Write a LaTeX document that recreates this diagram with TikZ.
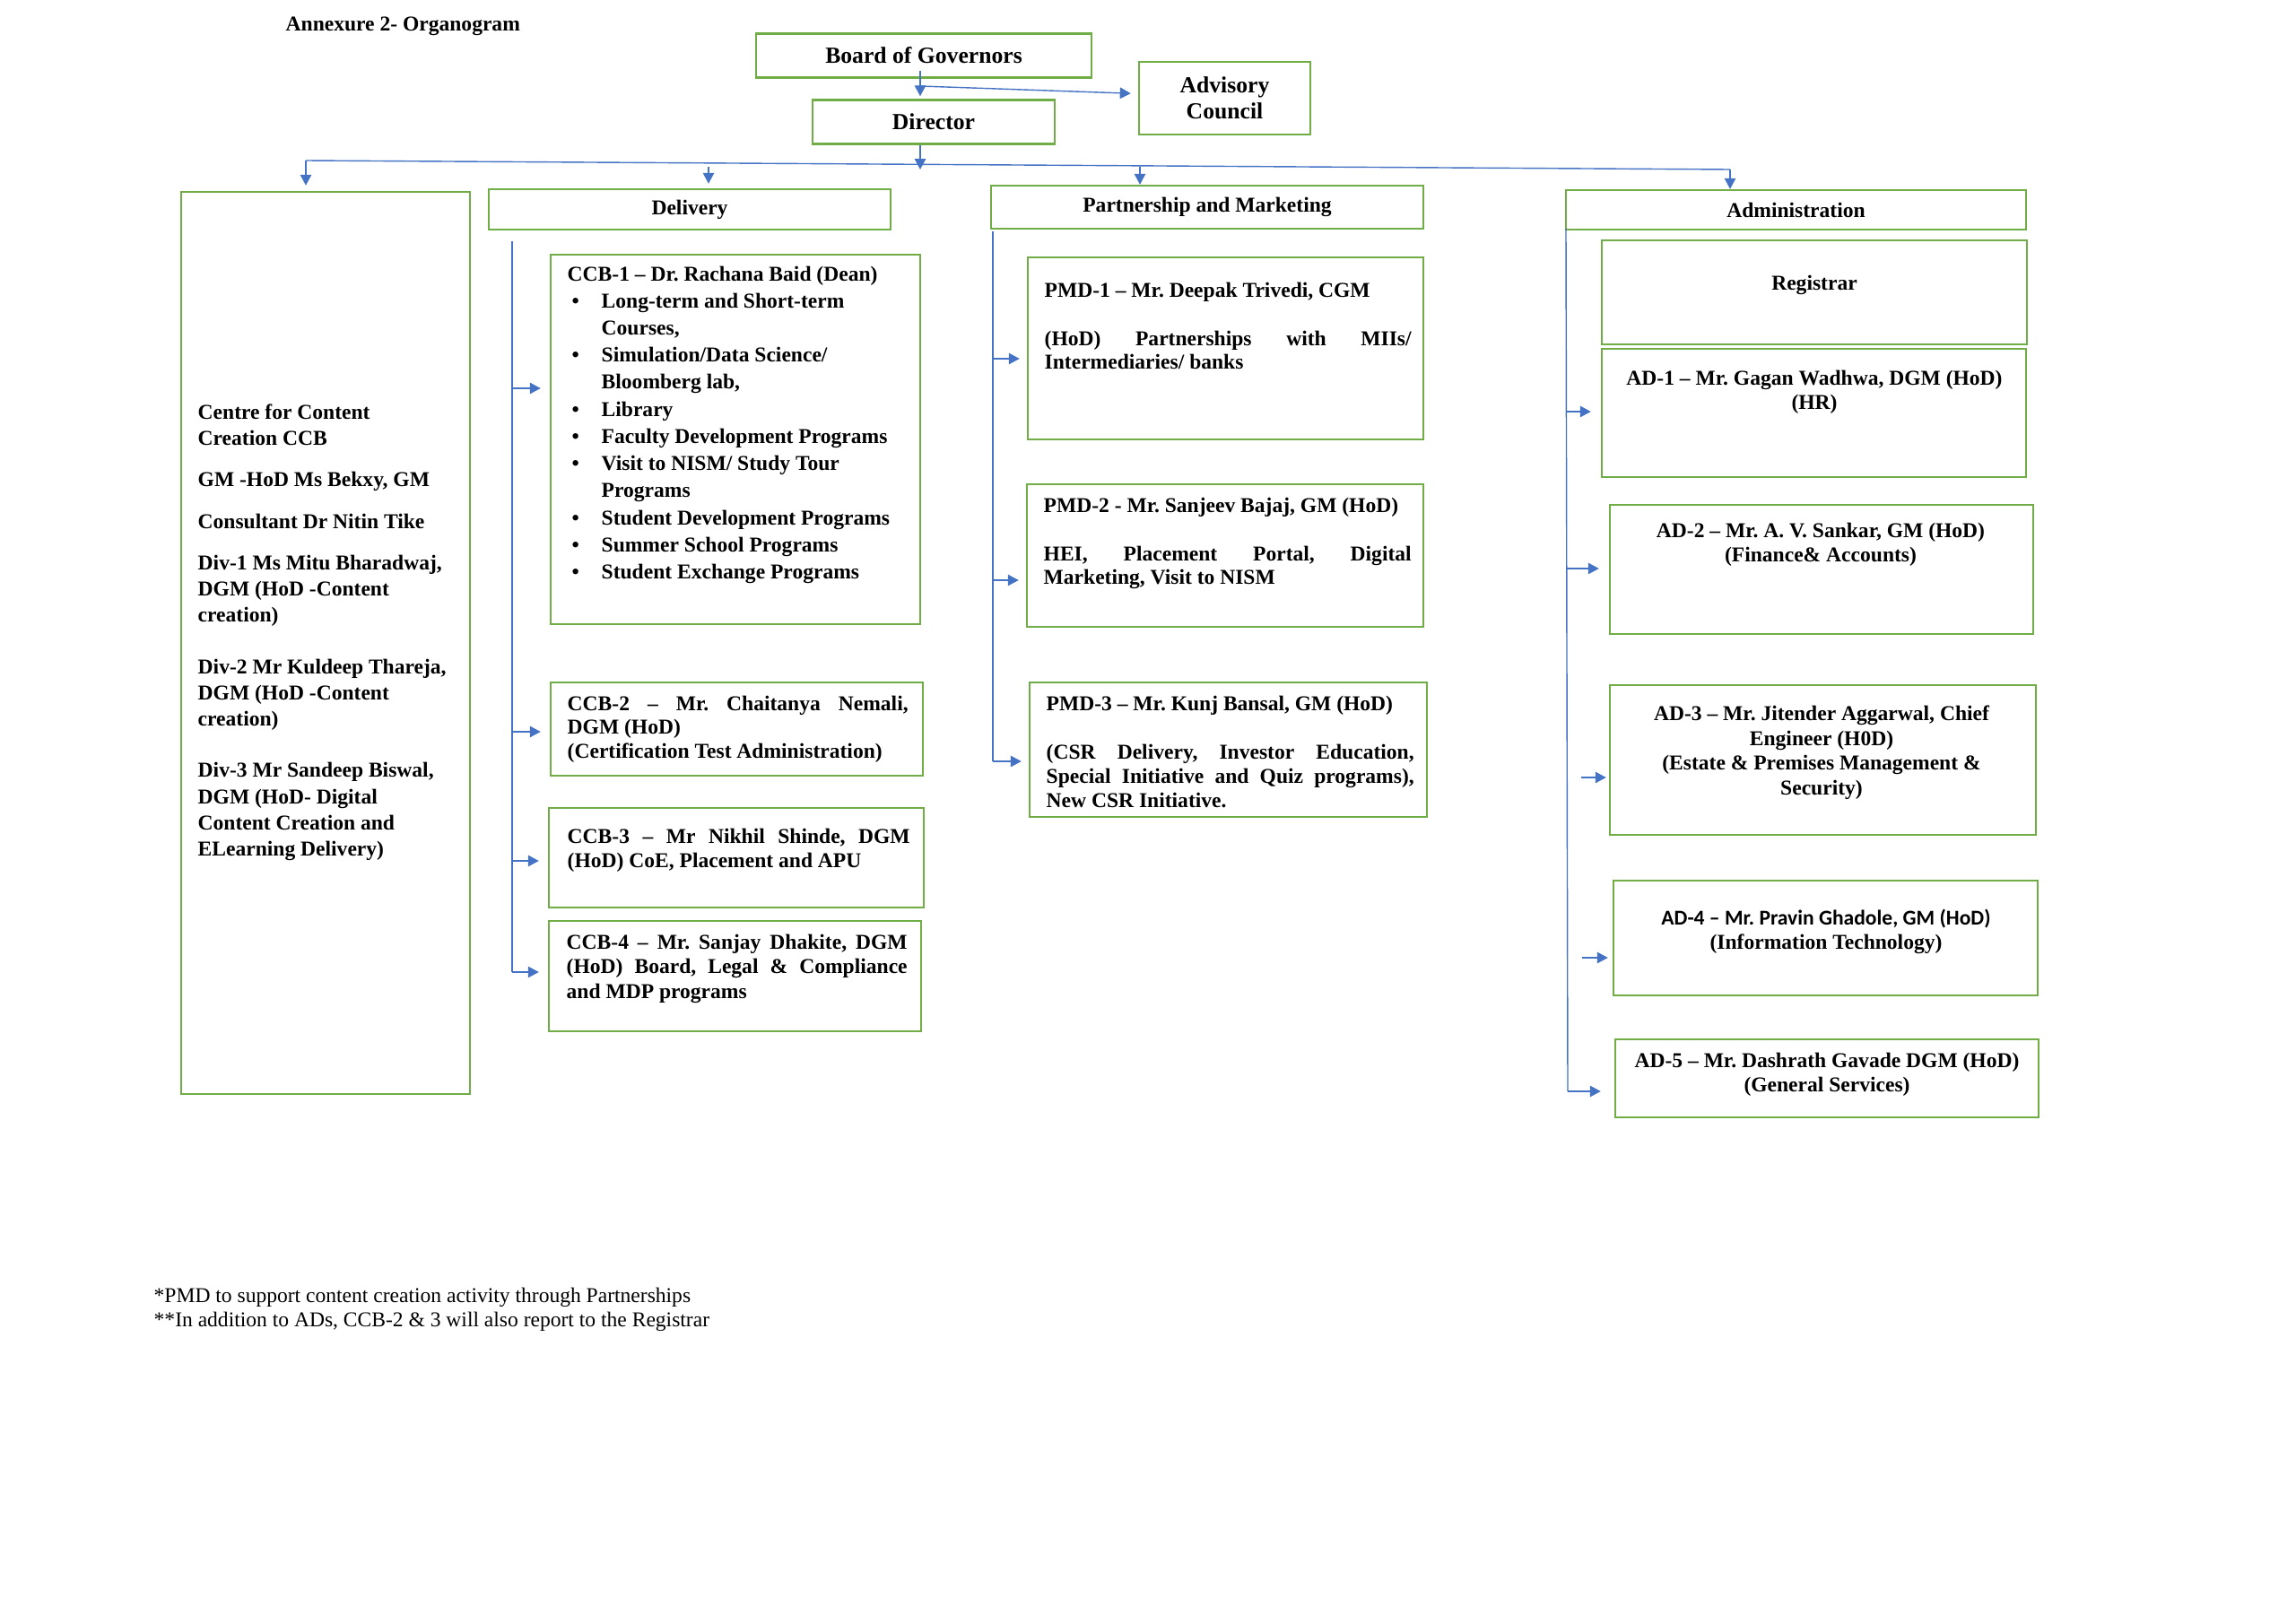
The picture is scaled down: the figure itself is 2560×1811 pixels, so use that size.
\documentclass[tikz,border=0pt]{standalone}
\usepackage{fontspec}
\setmainfont{Liberation Serif}
\newfontfamily\calfont[Ligatures=TeX]{Carlito}
\usetikzlibrary{arrows.meta}
\definecolor{boxgreen}{HTML}{70AD47}
\definecolor{linkblue}{HTML}{4472C4}
\newcommand{\orgitem}{\makebox[3.8mm][l]{\hspace{0.5mm}\textbullet}}
\newcommand{\orgcont}{\hspace*{3.8mm}}
\frenchspacing

\begin{document}
\begin{tikzpicture}[x=0.1mm,y=-0.1mm,
    box/.style={draw=boxgreen,line width=0.7pt,inner sep=0pt},
    txt/.style={inner sep=0pt,font=\fontsize{6.7}{7.9}\selectfont\bfseries},
    big/.style={inner sep=0pt,font=\fontsize{7.3}{8.3}\selectfont\bfseries},
    note/.style={inner sep=0pt,font=\fontsize{6.7}{7.9}\selectfont},
    bus/.style={draw=linkblue,line width=0.4pt},
    link/.style={bus,-{Triangle[length=1.2mm,width=1.25mm]}}]
  \useasboundingbox (0,0) rectangle (2560,1811);

  \node[txt,anchor=west] (title) at (318,29) {Annexure 2- Organogram};

  \node[box,big,minimum width=37.4mm,minimum height=4.9mm] (bog)
    at (1030,62) {Board of Governors};
  \node[box,big,align=center,minimum width=19.1mm,minimum height=8.1mm]
    (advisory) at (1365.5,109.5) {Advisory\\Council};
  \node[box,big,minimum width=27.0mm,minimum height=4.9mm] (director)
    at (1041,136) {Director};

  \node[box,minimum width=32.2mm,minimum height=100.6mm] (ccb) at (363,717) {};
  \node[txt,anchor=north west,align=left,font=\fontsize{6.7}{8.3}\selectfont\bfseries]
    (ccbtext) at (220,450)
    {Centre for Content\\Creation CCB\\[4.9pt]
     GM -HoD Ms Bekxy, GM\\[4.9pt]
     Consultant Dr Nitin Tike\\[4.9pt]
     Div-1 Ms Mitu Bharadwaj,\\DGM (HoD -Content\\creation)\\[8pt]
     Div-2 Mr Kuldeep Thareja,\\DGM (HoD -Content\\creation)\\[8pt]
     Div-3 Mr Sandeep Biswal,\\DGM (HoD- Digital\\Content Creation and\\ELearning Delivery)};

  \node[box,txt,minimum width=44.8mm,minimum height=4.5mm] (delivery)
    at (769,233.5) {Delivery};
  \node[box,minimum width=41.2mm,minimum height=41.2mm] (ccbone) at (820,490) {};
  \node[txt,anchor=north west,align=left,font=\fontsize{6.7}{8.6}\selectfont\bfseries]
    (ccbonetext) at (632,296)
    {CCB-1 -- Dr. Rachana Baid (Dean)\\
     \orgitem Long-term and Short-term\\\orgcont Courses,\\
     \orgitem Simulation/Data Science/\\\orgcont Bloomberg lab,\\
     \orgitem Library\\
     \orgitem Faculty Development Programs\\
     \orgitem Visit to NISM/ Study Tour\\\orgcont Programs\\
     \orgitem Student Development Programs\\
     \orgitem Summer School Programs\\
     \orgitem Student Exchange Programs};
  \node[box,minimum width=41.5mm,minimum height=10.4mm] (ccbtwo) at (821.5,813) {};
  \node[txt,anchor=north west,text width=38mm,align=justify,
    font=\fontsize{6.7}{7.6}\selectfont\bfseries] (ccbtwotext) at (632,775)
    {CCB-2 -- Mr. Chaitanya Nemali,\linebreak DGM (HoD)\\(Certification Test Administration)};
  \node[box,minimum width=41.8mm,minimum height=11.1mm] (ccbthree) at (821,956.5) {};
  \node[txt,anchor=north west,text width=38.2mm,align=justify] (ccbthreetext)
    at (632,923) {CCB-3 -- Mr Nikhil Shinde, DGM\linebreak (HoD) CoE, Placement and APU};
  \node[box,minimum width=41.5mm,minimum height=12.3mm] (ccbfour) at (819.5,1088.5) {};
  \node[txt,anchor=north west,text width=38mm,align=justify] (ccbfourtext)
    at (631,1041) {CCB-4 -- Mr. Sanjay Dhakite, DGM\linebreak (HoD) Board, Legal \&
    Compliance\linebreak and MDP programs};

  \node[box,txt,minimum width=48.2mm,minimum height=4.8mm] (pm)
    at (1346,231) {Partnership and Marketing};
  \node[box,minimum width=44.1mm,minimum height=20.3mm] (pmdone) at (1366.5,388.5) {};
  \node[txt,anchor=north west,text width=40.9mm,align=justify,
    font=\fontsize{6.7}{7.5}\selectfont\bfseries] (pmdonetext) at (1164,314)
    {PMD-1 -- Mr. Deepak Trivedi, CGM\\[8pt](HoD) Partnerships with MIIs/\linebreak
     Intermediaries/ banks};
  \node[box,minimum width=44.2mm,minimum height=15.9mm] (pmdtwo) at (1366,619.5) {};
  \node[txt,anchor=north west,text width=41mm,align=justify,
    font=\fontsize{6.7}{7.5}\selectfont\bfseries] (pmdtwotext) at (1163,554)
    {PMD-2 - Mr. Sanjeev Bajaj, GM (HoD)\\[8pt]HEI, Placement Portal, Digital\linebreak
     Marketing, Visit to NISM};
  \node[box,minimum width=44.3mm,minimum height=15.0mm] (pmdthree) at (1369.5,836) {};
  \node[txt,anchor=north west,text width=41mm,align=justify,
    font=\fontsize{6.7}{7.6}\selectfont\bfseries] (pmdthreetext) at (1166,775)
    {PMD-3 -- Mr. Kunj Bansal, GM (HoD)\\[8pt](CSR Delivery, Investor Education,\linebreak
     Special Initiative and Quiz programs),\linebreak New CSR Initiative.};

  \node[box,txt,minimum width=51.3mm,minimum height=4.4mm] (admin)
    at (2002.5,234) {Administration};
  \node[box,minimum width=47.4mm,minimum height=11.6mm] (registrar) at (2023,326) {};
  \node[txt,anchor=north] (registrartext) at (2023,306) {Registrar};
  \node[box,minimum width=47.3mm,minimum height=14.3mm] (adone) at (2022.5,460.5) {};
  \node[txt,anchor=north,align=center] (adonetext) at (2023,412)
    {AD-1 -- Mr. Gagan Wadhwa, DGM (HoD)\\(HR)};
  \node[box,minimum width=47.2mm,minimum height=14.4mm] (adtwo) at (2031,635) {};
  \node[txt,anchor=north,align=center] (adtwotext) at (2030,582)
    {AD-2 -- Mr. A. V. Sankar, GM (HoD)\\(Finance\& Accounts)};
  \node[box,minimum width=47.5mm,minimum height=16.7mm] (adthree) at (2032.5,847.5) {};
  \node[txt,anchor=north,align=center] (adthreetext) at (2031,786)
    {AD-3 -- Mr. Jitender Aggarwal, Chief\\Engineer (H0D)\\(Estate \& Premises Management \&\\Security)};
  \node[box,minimum width=47.3mm,minimum height=12.8mm] (adfour) at (2035.5,1046) {};
  \node[txt,anchor=north,align=center] (adfourtext) at (2036,1013)
    {{\calfont AD-4 -- Mr. Pravin Ghadole, GM (HoD)}\\(Information Technology)};
  \node[box,minimum width=47.2mm,minimum height=8.7mm] (adfive) at (2037,1202.5) {};
  \node[txt,anchor=north,align=center] (adfivetext) at (2037,1173)
    {AD-5 -- Mr. Dashrath Gavade DGM (HoD)\\(General Services)};

  \node[note,anchor=north west,align=left] (notes) at (171,1435)
    {*PMD to support content creation activity through Partnerships\\
     **In addition to ADs, CCB-2 \& 3 will also report to the Registrar};

  \coordinate (bogdrop) at (1026,79);
  \coordinate (advsplit) at (1026,96);
  \coordinate (hub) at (1026,189);
  \coordinate (busleft) at (341,179);
  \coordinate (busright) at (1929,189);
  \coordinate (deldrop) at (790,186);
  \coordinate (pmdrop) at (1271,186);
  \draw[link,shorten >=0.3mm] (bogdrop) -- (bogdrop |- director.north);
  \draw[link,shorten >=0.8mm] (advsplit) -- ([yshift=0.5mm]advisory.west);
  \draw[link] (hub |- director.south) -- (hub);
  \draw[bus] (busleft) -- (busright);
  \draw[link,shorten >=0.6mm] (busleft) -- (busleft |- ccb.north);
  \draw[link,shorten >=0.5mm] (deldrop) -- (deldrop |- delivery.north);
  \draw[link] (pmdrop) -- (pmdrop |- pm.north);
  \draw[link] (busright) -- (busright |- admin.north);

  \coordinate (deltop) at (571,269);
  \coordinate (delA) at (571,433);
  \coordinate (delB) at (571,816);
  \coordinate (delC) at (571,960);
  \coordinate (delD) at (571,1084);
  \draw[bus] (deltop) -- (delD);
  \draw[link,shorten >=1mm] (delA) -- (delA -| ccbone.west);
  \draw[link,shorten >=1mm] (delB) -- (delB -| ccbtwo.west);
  \draw[link,shorten >=1mm] (delC) -- (delC -| ccbthree.west);
  \draw[link,shorten >=1mm] (delD) -- (delD -| ccbfour.west);

  \coordinate (pmtop) at (1107,258);
  \coordinate (pmA) at (1107,400);
  \coordinate (pmB) at (1107,647);
  \coordinate (pmC) at (1107,849);
  \draw[bus] (pmtop) -- (pmC);
  \draw[link,shorten >=0.8mm] (pmA) -- (pmA -| pmdone.west);
  \draw[link,shorten >=0.8mm] (pmB) -- (pmB -| pmdtwo.west);
  \draw[link,shorten >=0.8mm] (pmC) -- (pmC -| pmdthree.west);

  \coordinate (admtop) at (1746,255);
  \coordinate (admA) at (1746,459);
  \coordinate (admB) at (1747,634);
  \coordinate (admE) at (1748,1217);
  \coordinate (adthreefrom) at (1763,867);
  \coordinate (adfourfrom) at (1764,1068);
  \draw[bus] (admtop) -- (admE);
  \draw[link,shorten >=1.1mm] (admA) -- (admA -| adone.west);
  \draw[link,shorten >=1.1mm] (admB) -- (admB -| adtwo.west);
  \draw[link,shorten >=0.3mm] (adthreefrom) -- (adthreefrom -| adthree.west);
  \draw[link,shorten >=0.5mm] (adfourfrom) -- (adfourfrom -| adfour.west);
  \draw[link,shorten >=1.5mm] (admE) -- (admE -| adfive.west);
\end{tikzpicture}
\end{document}
